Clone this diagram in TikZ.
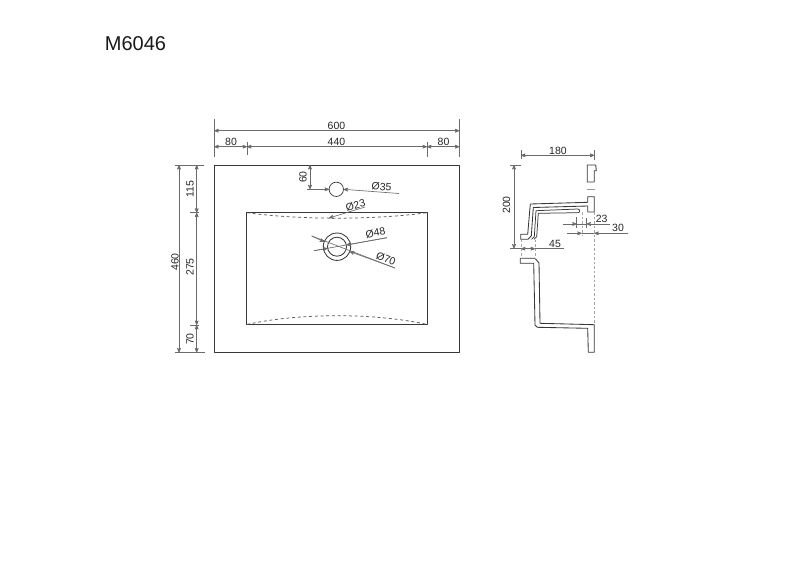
\documentclass[tikz,border=0pt]{standalone}
\usepackage{fontspec}
\setmainfont{Liberation Sans}
\usepackage{xcolor}
\usetikzlibrary{arrows}
\definecolor{dimgrey}{gray}{0.42}
\definecolor{edgegrey}{gray}{0.22}
\newcommand{\dimlabel}[4]{ % Takes name, x coord, y coord, rotation, and reads the text in the next group
    \node [dimtext, rotate=#4] (#1) at (#2, #3)
}
\begin{document}
\begin{tikzpicture}[x=1pt, y=-1pt, >=stealth',
        outline/.style={edgegrey, line width=0.85pt, line join=round},
        dimline/.style={dimgrey, line width=0.65pt},
        hidden/.style={black!65, line width=0.75pt, dash pattern=on 3pt off 2.7pt},
        sightline/.style={black!35, line width=0.6pt, dash pattern=on 2.5pt off 2pt},
        dimtext/.style={inner sep=0pt, text=black!85, font=\fontsize{10.5}{12}\selectfont}]
    \useasboundingbox (0,0) rectangle (800,565);

    % Title
    \node [font=\fontsize{20}{24}\selectfont, text=black!90, inner sep=0pt] (title) at (135.5, 43.5) {M6046};

    % Top view, outlines
    \draw[outline] (214.3,165) rectangle (459.4,352.3);
    \draw[outline] (246.8,212.7) rectangle (427,324.6);
    \draw[hidden] (247,212.7) .. controls (300,220) and (374,220) .. (427,212.7);
    \draw[hidden] (247,324.4) .. controls (300,312.8) and (374,312.8) .. (427,324.4);
    \draw[outline, line width=0.7pt] (336.3,189.3) circle (7.2);
    \draw[outline] (337,246.7) circle (13.7);
    \draw[outline] (337,246.7) circle (9.5);

    % Top view, extension lines
    \draw[dimline] (214.3,119) -- (214.3,157);
    \draw[dimline] (459.4,119) -- (459.4,157);
    \draw[dimline] (247,142) -- (247,155);
    \draw[dimline] (427,142) -- (427,157);
    \draw[dimline] (175,165) -- (204,165);
    \draw[dimline] (175,352.5) -- (205,352.5);
    \draw[dimline] (190,212.7) -- (199,212.7);
    \draw[dimline] (190,325) -- (199,325);

    % Top view, dimension lines
    \draw[dimline, <->] (214.3,130.7) -- (459.4,130.7);
    \draw[dimline, <->] (214.3,146.7) -- (247,146.7);
    \draw[dimline, <->] (247,146.7) -- (427,146.7);
    \draw[dimline, <->] (427,146.7) -- (459.4,146.7);
    \draw[dimline, <->] (179,165) -- (179,352.5);
    \draw[dimline, <->] (196.7,165) -- (196.7,212.7);
    \draw[dimline, <->] (196.7,212.7) -- (196.7,325);
    \draw[dimline, <->] (196.7,325) -- (196.7,352.5);
    \draw[dimline, <->] (310,165) -- (310,189.3);
    \draw[dimline, ->] (307,189.3) -- (329.1,189.3);

    % Diameter leaders
    \draw[dimline, ->] (399,193.5) -- (343.5,189.3);
    \draw[dimline, ->] (365,207) -- (329,218);
    \draw[dimline] (387,237.7) -- (314,250.7);
    \draw[dimline] (395,268) -- (311.7,236);
    \draw[dimline, ->] (387,237.7) -- (346.4,245);
    \draw[dimline, ->] (314,250.7) -- (327.6,248.3);
    \draw[dimline, ->] (395,268) -- (349.8,251.6);
    \draw[dimline, ->] (311.7,236) -- (324.2,241.8);

    % Top view, labels
    \dimlabel{lbla}{336.5}{125.5}{0} {600};
    \dimlabel{lblb}{231}{142}{0} {80};
    \dimlabel{lblc}{336.5}{142}{0} {440};
    \dimlabel{lbld}{443.5}{142}{0} {80};
    \dimlabel{lble}{175}{262}{90} {460};
    \dimlabel{lblf}{190}{189}{90} {115};
    \dimlabel{lblg}{190}{267}{90} {275};
    \dimlabel{lblh}{190}{339}{90} {70};
    \dimlabel{lbli}{303}{177}{90} {60};
    \dimlabel{lblj}{381.5}{187}{-4} {Ø35};
    \dimlabel{lblk}{355.5}{205.5}{15} {Ø23};
    \dimlabel{lbll}{375.5}{233}{10} {Ø48};
    \dimlabel{lblm}{386}{258.5}{-22} {Ø70};

    % Side view, upper part
    \draw[outline] (587.3,165) -- (595.7,165) -- (596.3,170.7) -- (594.3,170.7) -- (594.3,182) -- (587.3,182) -- cycle;
    \draw[outline, black!40] (587,189) -- (595,189);
    \draw[outline] (520.7,234.3) -- (527.7,234.3) -- (530.3,204) -- (587.7,202.3) -- (587.7,196.7) -- (594.3,196.7) -- (594.3,212) -- (587.7,212) -- (587.7,206) -- (533.3,207.5) -- (531.3,236) -- (528,239.3) -- (520.7,239.3) -- cycle;
    \draw[outline, line width=0.75pt] (531.5,239.3) -- (534.3,236.7) -- (536,210.7) -- (577.7,209) .. controls (580.4,209) and (580.4,212.7) .. (577.7,212.7) -- (538.3,213.3) -- (536.7,236.7) -- (534,239.3);

    % Side view, lower part
    \draw[outline] (520.3,258.3) -- (535,258.3) -- (539,263) -- (540,323.3) -- (594.3,324.7) -- (594.3,352.3) -- (588.3,352.3) -- (587.7,328.3) -- (537.3,327.3) -- (535,325) -- (533.7,263.3) -- (520.3,263.3) -- cycle;

    % Side view, sight lines
    \draw[sightline] (594.3,212) -- (594.3,324);
    \draw[sightline] (582,212) -- (582,235);
    \draw[sightline] (521,239.5) -- (521,258);
    \draw[sightline] (535,239.5) -- (535,258);
    \draw[dimline] (521,150) -- (521,159);
    \draw[dimline] (594.3,150) -- (594.3,160);
    \draw[dimline] (510,165) -- (521,165);
    \draw[dimline] (510,248.5) -- (521,248.5);
    \draw[dimline] (576.7,217) -- (576.7,228);
    \draw[dimline] (586.5,218) -- (586.5,228);

    % Side view, dimension lines
    \draw[dimline, <->] (521,155.3) -- (594.3,155.3);
    \draw[dimline, <->] (514,165) -- (514,248.5);
    \draw[dimline, <->] (521,248.7) -- (535,248.7);
    \draw[dimline] (535,248.7) -- (564,248.7);
    \draw[dimline, ->] (563,224) -- (576.7,224);
    \draw[dimline] (576.7,224) -- (586.5,224);
    \draw[dimline, <-] (586.5,224) -- (610,224);
    \draw[dimline, ->] (567,233.3) -- (581.7,233.3);
    \draw[dimline] (581.7,233.3) -- (594.3,233.3);
    \draw[dimline, <-] (594.3,233.3) -- (628,233.3);

    % Side view, labels
    \dimlabel{lbln}{558}{151}{0} {180};
    \dimlabel{lblo}{506.5}{205}{90} {200};
    \dimlabel{lblp}{555}{244}{0} {45};
    \dimlabel{lblq}{601.7}{219}{0} {23};
    \dimlabel{lblr}{618}{228}{0} {30};
\end{tikzpicture}
\end{document}
